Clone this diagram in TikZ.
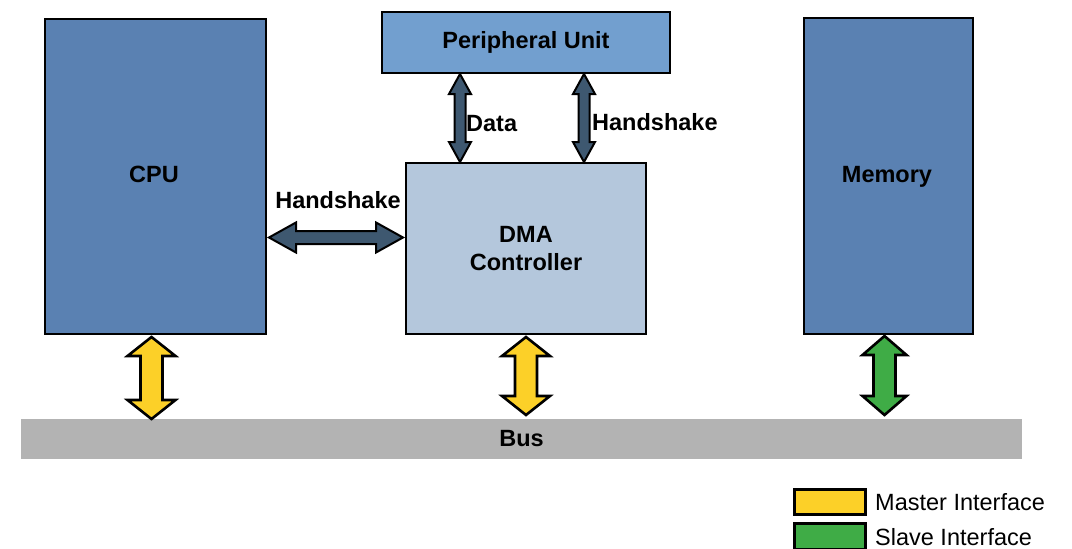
\documentclass[tikz,border=0pt]{standalone}
\usepackage{fontspec}
\setmainfont{Liberation Sans}
\usetikzlibrary{calc}
\definecolor{darkblue}{RGB}{90,129,178}
\definecolor{skyblue}{RGB}{114,159,207}
\definecolor{lightblue}{RGB}{180,199,220}
\definecolor{busgray}{RGB}{179,179,179}
\definecolor{arrdark}{RGB}{62,88,112}
\definecolor{ifyellow}{RGB}{252,208,40}
\definecolor{ifgreen}{RGB}{63,172,70}
\newcommand\vdarr[6]{\path[#1] let \p1=(#2), \p2=(#3) in
 (\x1,\y1) -- (\x1+#5,\y1-#6) -- (\x1+#4,\y1-#6) -- (\x1+#4,\y2+#6) -- (\x1+#5,\y2+#6) -- (\x1,\y2)
 -- (\x1-#5,\y2+#6) -- (\x1-#4,\y2+#6) -- (\x1-#4,\y1-#6) -- (\x1-#5,\y1-#6) -- cycle;}
\newcommand\hdarr[6]{\path[#1] let \p1=(#2), \p2=(#3) in
 (\x1,\y1) -- (\x1+#6,\y1+#5) -- (\x1+#6,\y1+#4) -- (\x2-#6,\y1+#4) -- (\x2-#6,\y1+#5) -- (\x2,\y1)
 -- (\x2-#6,\y1-#5) -- (\x2-#6,\y1-#4) -- (\x1+#6,\y1-#4) -- (\x1+#6,\y1-#5) -- cycle;}
\tikzset{
  box/.style={draw=black, line width=2pt, rectangle, anchor=north west, inner sep=0pt,
    font=\fontsize{23.5}{28}\selectfont\bfseries, align=center},
  lbl/.style={inner sep=0pt, font=\fontsize{23.5}{28}\selectfont\bfseries},
  legtxt/.style={inner sep=0pt, anchor=west, font=\fontsize{23.5}{28}\selectfont},
  legbox/.style={draw=black, line width=3pt, rectangle, anchor=north west, inner sep=0pt},
  darr/.style={fill=arrdark, draw=black, line width=2pt, line join=miter},
  yarr/.style={fill=ifyellow, draw=black, line width=2.6pt, line join=miter},
  garr/.style={fill=ifgreen, draw=black, line width=2.6pt, line join=miter},
}
\begin{document}
\begin{tikzpicture}[x=1pt,y=-1pt]
\useasboundingbox (0,0) rectangle (1072,549);
% boxes
\node[box, fill=darkblue, minimum width=221pt, minimum height=315pt] (cpu) at (44,18) {};
\node[lbl] (cputxt) at (154,174) {CPU};
\node[box, fill=skyblue, minimum width=288pt, minimum height=61pt] (per) at (381,11) {Peripheral Unit};
\node[box, fill=lightblue, minimum width=240pt, minimum height=171pt] (dma) at (405,162) {DMA\\Controller};
\node[box, fill=darkblue, minimum width=169pt, minimum height=316pt] (mem) at (803,17) {};
\node[lbl] (memtxt) at (887,177) {Memory};
\node[box, draw=none, fill=busgray, minimum width=1001pt, minimum height=40pt] (bus) at (20,418) {Bus};
% dark arrows
\hdarr{darr}{$(cpu.east)+(2,61)$}{$(dma.west |- cpu.east)+(-2,61)$}{6.5pt}{15pt}{27pt}
\node[lbl] (hs1) at (338,200) {Handshake};
\coordinate (pd1) at ($(per.south)+(-66,0)$);
\coordinate (pd2) at ($(pd1 |- dma.north)$);
\vdarr{darr}{pd1}{pd2}{5.5pt}{11pt}{20pt}
\node[lbl, anchor=west] (datatxt) at (466,124) {Data};
\coordinate (ph1) at ($(per.south)+(58,0)$);
\coordinate (ph2) at ($(ph1 |- dma.north)$);
\vdarr{darr}{ph1}{ph2}{5.5pt}{11pt}{20pt}
\node[lbl, anchor=west] (hs2) at (592,122) {Handshake};
% interface arrows
\coordinate (c1) at ($(cpu.south)+(-4,2)$);
\coordinate (c2) at ($(c1 |- bus.north)+(0,1)$);
\vdarr{yarr}{c1}{c2}{11pt}{24pt}{19pt}
\coordinate (d1) at ($(dma.south)+(0,2)$);
\coordinate (d2) at ($(d1 |- bus.north)+(0,-3)$);
\vdarr{yarr}{d1}{d2}{11pt}{24pt}{19pt}
\coordinate (m1) at ($(mem.south)+(-4,1)$);
\coordinate (m2) at ($(m1 |- bus.north)+(0,-3)$);
\vdarr{garr}{m1}{m2}{11pt}{22pt}{19pt}
% legend
\node[legbox, fill=ifyellow, minimum width=71pt, minimum height=25pt] (ly) at (793,488) {};
\node[legtxt] (lyt) at (875,502) {Master Interface};
\node[legbox, fill=ifgreen, minimum width=71pt, minimum height=26pt] (lg) at (793,522) {};
\node[legtxt] (lgt) at (875,537) {Slave Interface};
\end{tikzpicture}
\end{document}
